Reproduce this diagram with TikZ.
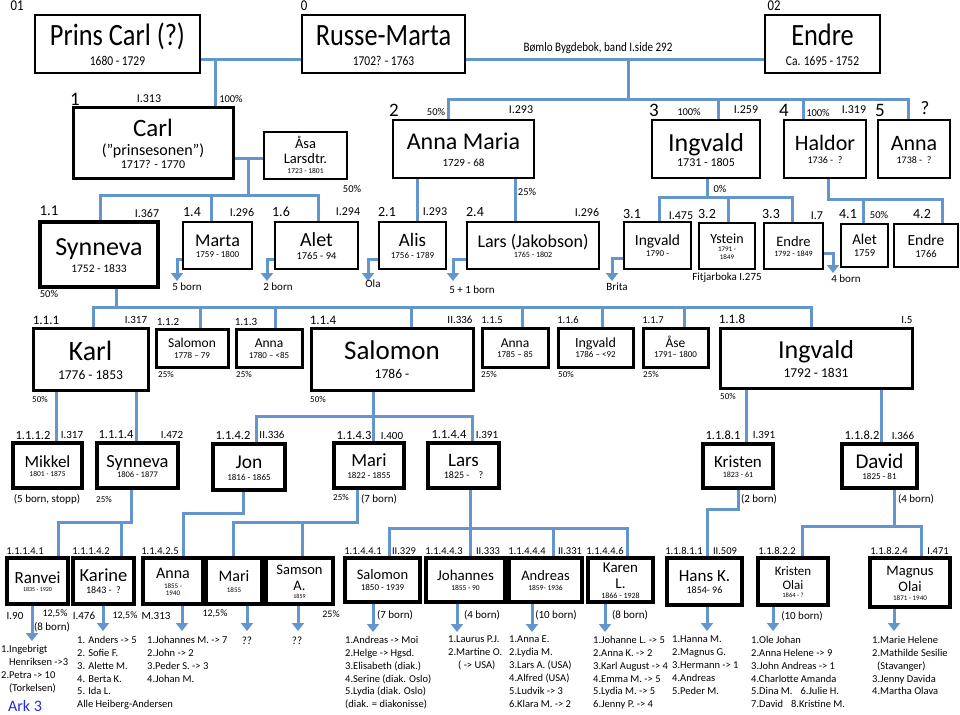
\documentclass[tikz,border=0pt]{standalone}
\usepackage{fontspec}
\setmainfont{Carlito}
\newfontfamily\nar[FakeStretch=0.85]{Carlito}
\usetikzlibrary{arrows.meta}
\definecolor{lb}{RGB}{98,150,205}
\definecolor{arkblue}{RGB}{35,45,215}
\pgfdeclarelayer{bg}
\pgfdeclarelayer{lines}
\pgfsetlayers{bg,lines,main}
\newcommand\Ln[2]{\fontsize{#1}{#1}\selectfont\vrule width0pt height.85\dimexpr#1pt\relax depth.2\dimexpr#1pt\relax#2}
\newcommand\Nl[2]{\nar\Ln{#1}{#2}}
\tikzset{
 box/.style={draw, fill=white, inner sep=0pt, align=center, font=\fontsize{2}{0}\selectfont, execute at begin node={\lineskip=0pt}},
 conn/.style={draw=lb, line width=3pt},
 arr/.style={conn, -{Triangle[width=12pt,length=8pt]}},
 lab/.style={inner sep=0pt},
 lst/.style={inner sep=0pt, anchor=north west, align=left, font=\fontsize{10.5}{12.85}\selectfont},
}
\newcommand\bx[7][2pt]{\node[box,line width=#1,minimum width={(#5-#3)*1pt},minimum height={(#6-#4)*1pt}] (#2) at ({(#3+#5)/2},{(#4+#6)/2}) {#7};}
\newcommand\lb[5]{\node[lab,font=\fontsize{#4}{#4}\selectfont] (#1) at (#2,#3) {#5};}
\begin{document}
\begin{tikzpicture}[x=1pt,y=-1pt]
\begin{pgfonlayer}{bg}
\fill[white] (0,0) rectangle (960,714);
\end{pgfonlayer}
\useasboundingbox (0,0) rectangle (960,714);

% ---------- top row
\bx[2.2pt]{pc}{35}{15}{200}{73}{\Nl{31}{Prins Carl (?)}\\[2pt]\Nl{13.5}{1680 - 1729}}
\bx[2.2pt]{rm}{302}{15}{465}{73}{\Nl{31}{Russe-Marta}\\[2pt]\Nl{13.5}{1702? - 1763}}
\bx[2.2pt]{en}{765}{15}{880}{73}{\Nl{31}{Endre}\\[2pt]\Nl{13.5}{Ca. 1695 - 1752}}
\lb{n01}{17}{6}{15}{\nar 01}
\lb{n0}{304}{6}{15}{\nar 0}
\lb{n02}{774}{6}{15}{\nar 02}
\lb{bomlo}{598}{48}{13}{\nar Bømlo Bygdebok, band I.side 292}

% ---------- generation 1
\bx[3pt]{carl}{73}{108}{233}{179}{\Ln{25}{Carl}\\\Ln{16}{(”prinsesonen”)}\\\Ln{12}{1717? - 1770}}
\bx{asa}{264}{132}{347}{179}{\Ln{14.5}{Åsa}\\\Ln{14.5}{Larsdtr.}\\\Ln{7.5}{1723 - 1801}}
\bx[2.2pt]{am}{393}{120}{534}{178}{\Ln{24}{Anna Maria}\\[3pt]\Ln{11}{1729 - 68}}
\bx[2.2pt]{ing}{652}{120}{760}{178}{\Ln{26}{Ingvald}\\\Ln{12}{1731 - 1805}}
\bx[2.2pt]{hal}{784}{120}{866}{178}{\Ln{22}{Haldor}\\\Ln{10}{1736 -\ \ ?}}
\bx[2.2pt]{an5}{878}{120}{950}{178}{\Ln{22}{Anna}\\\Ln{10}{1738 -\ \ ?}}
\lb{g1}{75}{99}{19}{1}
\lb{g1a}{149}{99}{12}{I.313}
\lb{g1b}{231}{99}{10.5}{100\%}
\lb{g2}{394}{110}{19}{2}
\lb{g2a}{436}{112}{10.5}{50\%}
\lb{g2b}{521}{110}{12}{I.293}
\lb{g3}{654}{110}{19}{3}
\lb{g3a}{689}{112}{10.5}{100\%}
\lb{g3b}{746}{110}{12}{I.259}
\lb{g4}{784}{110}{19}{4}
\lb{g4a}{818}{113}{10.5}{100\%}
\lb{g4b}{854}{110}{12}{I.319}
\lb{g5}{880}{110}{19}{5}
\lb{g5a}{925}{108}{19}{?}
\lb{p1}{352}{189}{10.5}{50\%}
\lb{p2}{527}{192}{10.5}{25\%}
\lb{p3}{720}{189}{10.5}{0\%}

% ---------- generation 2
\bx[4pt]{syn}{40}{222}{158}{287}{\Ln{26}{Synneva}\\[2pt]\Ln{11.5}{1752 - 1833}}
\bx{marta}{183}{222}{252}{269}{\Ln{18}{Marta}\\\Ln{9}{1759 - 1800}}
\bx{alet}{275}{222}{358}{269}{\Ln{20}{Alet}\\\Ln{10.5}{1765 - 94}}
\bx{alis}{379}{222}{446}{269}{\Ln{19}{Alis}\\\Ln{9}{1756 - 1789}}
\bx{lars}{467}{222}{599}{269}{\Ln{18}{Lars (Jakobson)}\\\Ln{8}{1765 - 1802}}
\bx{i31}{624}{222}{691}{269}{\Ln{15.5}{Ingvald}\\\Ln{9}{1790 -}}
\bx{ys}{699}{223}{755}{269}{\Ln{14}{Ystein}\\\Ln{7}{1791 -}\\\Ln{7}{1849}}
\bx{e33}{764}{223}{823}{269}{\Ln{14.5}{Endre}\\\Ln{8}{1792 - 1849}}
\bx{a41}{841}{224}{888}{267}{\Ln{15}{Alet}\\\Ln{10.5}{1759}}
\bx{e42}{894}{224}{958}{267}{\Ln{15.5}{Endre}\\\Ln{10.5}{1766}}
\lb{c11}{49}{211}{15}{1.1}
\lb{c11b}{147}{213}{12}{I.367}
\lb{c14}{192}{212}{14}{1.4}
\lb{c14b}{242}{212}{12}{I.296}
\lb{c16}{281}{212}{14}{1.6}
\lb{c16b}{348}{212}{12}{I.294}
\lb{c21}{387}{212}{14}{2.1}
\lb{c21b}{435}{212}{12}{I.293}
\lb{c24}{475}{212}{14}{2.4}
\lb{c24b}{587}{212}{12}{I.296}
\lb{c31}{632}{214}{14}{3.1}
\lb{c31b}{681}{216}{12}{I.475}
\lb{c32}{707}{214}{14}{3.2}
\lb{c33}{771}{214}{14}{3.3}
\lb{c33b}{817}{216}{12}{I.7}
\lb{c41}{848}{214}{14}{4.1}
\lb{c41b}{879}{215}{10.5}{50\%}
\lb{c42}{922}{214}{14}{4.2}
\lb{c11p}{49}{294}{10.5}{50\%}
\lb{bo1}{187}{287}{11}{5 born}
\lb{bo2}{278}{287}{11}{2 born}
\lb{bo3}{373}{284}{11}{Ola}
\lb{bo4}{472}{290}{11}{5 + 1 born}
\lb{bo5}{617}{287}{11}{Brita}
\lb{bo6}{727}{278}{11}{Fitjarboka I.275}
\lb{bo7}{846}{279}{11}{4 born}

% ---------- generation 3
\bx[3pt]{karl}{33}{328}{148}{390}{\Ln{28}{Karl}\\[2pt]\Ln{13.5}{1776 - 1853}}
\bx[3pt]{s112}{156}{329}{228}{367}{\Ln{13.5}{Salomon}\\\Ln{9}{1778 – 79}}
\bx[3pt]{a113}{236}{329}{302}{367}{\Ln{13.5}{Anna}\\\Ln{9}{1780 – <85}}
\bx[3pt]{s114}{311}{328}{473}{390}{\Ln{27}{Salomon}\\[2pt]\Ln{13.5}{1786 -}}
\bx[3pt]{a115}{482}{328}{548}{367}{\Ln{13.5}{Anna}\\\Ln{9}{1785 – 85}}
\bx[3pt]{i116}{558}{328}{633}{367}{\Ln{14}{Ingvald}\\\Ln{9}{1786 – <92}}
\bx[3pt]{ase}{643}{328}{708}{367}{\Ln{13.5}{Åse}\\\Ln{9}{1791– 1800}}
\bx[3pt]{i118}{720}{328}{912}{388}{\Ln{26}{Ingvald}\\[2pt]\Ln{13.5}{1792 - 1831}}
\lb{d111}{46}{320}{13}{1.1.1}
\lb{d111b}{136}{320}{11}{I.317}
\lb{d112}{168}{322}{11}{1.1.2}
\lb{d113}{246}{322}{11}{1.1.3}
\lb{d114}{323}{320}{13}{1.1.4}
\lb{d114b}{460}{320}{11}{II.336}
\lb{d115}{492}{320}{10.5}{1.1.5}
\lb{d116}{568}{320}{10.5}{1.1.6}
\lb{d117}{653}{320}{10.5}{1.1.7}
\lb{d118}{732}{319}{13}{1.1.8}
\lb{d118b}{907}{320}{11}{I.5}
\lb{q1}{166}{374}{9}{25\%}
\lb{q2}{244}{374}{9}{25\%}
\lb{q3}{40}{399}{9}{50\%}
\lb{q4}{318}{399}{9}{50\%}
\lb{q5}{489}{374}{9}{25\%}
\lb{q6}{566}{374}{9}{50\%}
\lb{q7}{651}{374}{9}{25\%}
\lb{q8}{728}{396}{9}{50\%}

% ---------- generation 4
\bx[3.5pt]{mik}{13}{443}{82}{488}{\Ln{17}{Mikkel}\\\Ln{7.5}{1801 - 1875}}
\bx[3.5pt]{syn2}{97}{443}{178}{488}{\Ln{18.5}{Synneva}\\\Ln{8.5}{1806 - 1877}}
\bx[3.5pt]{jon}{213}{444}{285}{490}{\Ln{19.5}{Jon}\\\Ln{9}{1816 - 1865}}
\bx[3.5pt]{mari}{334}{443}{404}{488}{\Ln{18.5}{Mari}\\\Ln{9}{1822 - 1855}}
\bx[3.5pt]{lars2}{428}{443}{499}{488}{\Ln{19}{Lars}\\\Ln{10}{1825 -\ \ \ \ ?}}
\bx[3.5pt]{kri}{703}{444}{773}{488}{\Ln{17}{Kristen}\\\Ln{8}{1823 - 61}}
\bx[3.5pt]{dav}{842}{444}{917}{488}{\Ln{21}{David}\\\Ln{9}{1825 - 81}}
\lb{e1}{33}{435}{12.5}{1.1.1.2}
\lb{e1b}{72}{435}{11}{I.317}
\lb{e2}{116}{435}{12.5}{1.1.1.4}
\lb{e2b}{172}{435}{11}{I.472}
\lb{e3}{233}{435}{12.5}{1.1.4.2}
\lb{e3b}{272}{435}{11}{II.336}
\lb{e4}{354}{435}{12.5}{1.1.4.3}
\lb{e4b}{392}{436}{11}{I.400}
\lb{e5}{449}{435}{12.5}{1.1.4.4}
\lb{e5b}{487}{435}{11}{I.391}
\lb{e6}{723}{435}{12.5}{1.1.8.1}
\lb{e6b}{764}{435}{11}{I.391}
\lb{e7}{862}{435}{12.5}{1.1.8.2}
\lb{e7b}{903}{436}{11}{I.366}
\lb{r1}{47}{499}{11}{(5 born, stopp)}
\lb{r2}{104}{499}{9}{25\%}
\lb{r3}{341}{497}{9}{25\%}
\lb{r4}{379}{499}{11}{(7 born)}
\lb{r5}{759}{499}{11}{(2 born)}
\lb{r6}{916}{499}{11}{(4 born)}

% ---------- generation 5
\bx[3.5pt]{ran}{7}{558}{68}{604}{\Ln{17}{Ranvei}\\\Ln{6}{1835 - 1920}}
\bx[3.5pt]{kar}{73}{558}{134}{604}{\Ln{18.5}{Karine}\\\Ln{10}{1843 -\ \ ?}}
\bx[3.5pt]{an6}{143}{558}{203}{604}{\Ln{16}{Anna}\\\Ln{7}{1855 -}\\\Ln{7}{1940}}
\bx[3.5pt]{mari6}{206}{558}{262}{604}{\Ln{16}{Mari}\\[2pt]\Ln{7}{1855}}
\bx[3.5pt]{sam}{266}{558}{333}{604}{\Ln{14.5}{Samson}\\\Ln{14.5}{A.}\\\Ln{6}{1859}}
\bx[3.5pt]{sal6}{345}{558}{420}{602}{\Ln{14.5}{Salomon}\\\Ln{9}{1850 - 1939}}
\bx[3.5pt]{joh}{426}{558}{505}{602}{\Ln{15}{Johannes}\\\Ln{7.5}{1855 - 90}}
\bx[3.5pt]{and6}{509}{558}{582}{602}{\Ln{14.5}{Andreas}\\\Ln{7.5}{1859- 1936}}
\bx[3.5pt]{kar6}{588}{558}{653}{602}{\Ln{15}{Karen}\\\Ln{15}{L.}\\\Ln{8}{1866 - 1928}}
\bx[3.5pt]{hans}{667}{558}{742}{605}{\Ln{17}{Hans K.}\\\Ln{10}{1854- 96}}
\bx[3.5pt]{kol}{758}{558}{828}{605}{\Ln{13}{Kristen}\\\Ln{13}{Olai}\\\Ln{6.5}{1864 - ?}}
\bx[3.5pt]{mag}{870}{558}{950}{607}{\Ln{14.5}{Magnus}\\\Ln{14.5}{Olai}\\\Ln{7}{1871 - 1940}}
\lb{f1}{25}{551}{10.5}{1.1.1.4.1}
\lb{f2}{91}{551}{10.5}{1.1.1.4.2}
\lb{f3}{160}{551}{10.5}{1.1.4.2.5}
\lb{f4}{363}{551}{10.5}{1.1.4.4.1}
\lb{f4b}{404}{551}{10.5}{II.329}
\lb{f5}{444}{551}{10.5}{1.1.4.4.3}
\lb{f5b}{488}{551}{10.5}{II.333}
\lb{f6}{527}{551}{10.5}{1.1.4.4.4}
\lb{f6b}{570}{551}{10.5}{II.331}
\lb{f7}{605}{551}{10.5}{1.1.4.4.6}
\lb{f8}{684}{551}{10.5}{1.1.8.1.1}
\lb{f8b}{725}{551}{10.5}{II.509}
\lb{f9}{777}{551}{10.5}{1.1.8.2.2}
\lb{f10}{889}{551}{10.5}{1.1.8.2.4}
\lb{f10b}{938}{551}{10.5}{I.471}
\lb{h1}{15}{616}{11}{I.90}
\lb{h2}{55}{614}{10}{12,5\%}
\lb{h3}{52}{627}{11}{(8 born)}
\lb{h4}{84}{616}{11}{I.476}
\lb{h5}{125}{616}{10}{12,5\%}
\lb{h6}{156}{616}{11}{M.313}
\lb{h7}{215}{614}{10}{12,5\%}
\lb{h8}{331}{614}{10}{25\%}
\lb{h9}{395}{615}{11}{(7 born)}
\lb{h10}{482}{615}{11}{(4 born)}
\lb{h11}{556}{615}{11}{(10 born)}
\lb{h12}{630}{615}{11}{(8 born)}
\lb{h13}{802}{616}{11}{(10 born)}
\lb{h14}{247}{641}{11}{??}
\lb{h15}{297}{641}{11}{??}

% ---------- lists
\node[lst] (L1) at (1,645) {1.Ingebrigt\\\hspace*{8pt}Henriksen ->3\\2.Petra -> 10\\\hspace*{8pt}(Torkelsen)};
\node[lab,font=\fontsize{16}{16}\selectfont,text=arkblue] (ark) at (25,706) {Ark 3};
\node[lst] (L2) at (77,636) {1. Anders -> 5\\2. Sofie F.\\3. Alette M.\\4. Berta K.\\5. Ida L.\\Alle Heiberg-Andersen};
\node[lst] (L3) at (147,636) {1.Johannes M. -> 7\\2.John -> 2\\3.Peder S. -> 3\\4.Johan M.};
\node[lst] (L4) at (345,636) {1.Andreas -> Moi\\2.Helge -> Hgsd.\\3.Elisabeth (diak.)\\4.Serine (diak. Oslo)\\5.Lydia (diak. Oslo)\\(diak. = diakonisse)};
\node[lst] (L5) at (448,636) {1.Laurus P.J.\\2.Martine O.\\\hspace*{10pt}( -> USA)};
\node[lst] (L6) at (509,636) {1.Anna E.\\2.Lydia M.\\3.Lars A. (USA)\\4.Alfred (USA)\\5.Ludvik -> 3\\6.Klara M. -> 2};
\node[lst] (L7) at (593,636) {1.Johanne L. -> 5\\2.Anna K. -> 2\\3.Karl August -> 4\\4.Emma M. -> 5\\5.Lydia M. -> 5\\6.Jenny P. -> 4};
\node[lst] (L8) at (672,636) {1.Hanna M.\\2.Magnus G.\\3.Hermann -> 1\\4.Andreas\\5.Peder M.};
\node[lst] (L9) at (751,636) {1.Ole Johan\\2.Anna Helene -> 9\\3.John Andreas -> 1\\4.Charlotte Amanda\\5.Dina M.\hspace{8pt}6.Julie H.\\7.David\hspace{8pt}8.Kristine M.};
\node[lst] (L10) at (872,636) {1.Marie Helene\\2.Mathilde Sesilie\\\hspace*{5pt}(Stavanger)\\3.Jenny Davida\\4.Martha Olava};

% ---------- connectors
\begin{pgfonlayer}{lines}
\draw[conn] (pc.east |- 0,60) -- (rm.west |- 0,60);
\draw[conn] (rm.east |- 0,60) -- (en.west |- 0,60);
\draw[conn] (215,60) -- (215,0 |- carl.north);
\draw[conn] (628,60) -- (628,100);
\draw[conn] (448,0 |- am.north) -- (448,100) -- (908,100) -- (908,0 |- an5.north);
\draw[conn] (718,100) -- (718,0 |- ing.north);
\draw[conn] (803,100) -- (803,0 |- hal.north);
% Carl family
\draw[conn] (carl.east |- 0,159) -- (asa.west |- 0,159);
\draw[conn] (248,159) -- (248,195);
\draw[conn] (100,0 |- syn.north) -- (100,195) -- (318,195) -- (318,0 |- alet.north);
\draw[conn] (211,195) -- (211,0 |- marta.north);
% Anna Maria
\draw[conn] (417,0 |- am.south) -- (417,0 |- alis.north);
\draw[conn] (515,0 |- am.south) -- (515,0 |- lars.north);
% Ingvald
\draw[conn] (707,0 |- ing.south) -- (707,197);
\draw[conn] (659,0 |- i31.north) -- (659,197) -- (792,197) -- (792,0 |- e33.north);
\draw[conn] (728,197) -- (728,0 |- ys.north);
% Haldor
\draw[conn] (828,0 |- hal.south) -- (828,199) -- (942,199) -- (942,0 |- e42.north);
\draw[conn] (863,199) -- (863,0 |- a41.north);
% small arrows gen 2
\draw[arr] (marta.west |- 0,259) -| (177,281);
\draw[arr] (alet.west |- 0,259) -| (267,281);
\draw[arr] (alis.west |- 0,259) -| (368,281);
\draw[arr] (lars.west |- 0,259) -| (453,281);
\draw[arr] (i31.west |- 0,258) -| (612,281);
\draw[arr] (e33.east |- 0,253) -| (833,273);
% Synneva's children
\draw[conn] (116,0 |- syn.south) -- (116,307);
\draw[conn] (93,0 |- karl.north) -- (93,307) -- (811,307) -- (811,0 |- i118.north);
\foreach \x/\n in {200/s112,275/a113,411/s114,522/a115,602/i116,684/ase}
  \draw[conn] (\x,307) -- (\x,0 |- \n.north);
% gen 4
\draw[conn] (56,0 |- karl.south) -- (56,0 |- mik.north);
\draw[conn] (136,0 |- karl.south) -- (136,0 |- syn2.north);
\draw[conn] (373,0 |- s114.south) -- (373,0 |- mari.north);
\draw[conn] (256,0 |- jon.north) -- (256,416) -- (472,416) -- (472,0 |- lars2.north);
\draw[conn] (746,0 |- i118.south) -- (746,0 |- kri.north);
\draw[conn] (881,0 |- i118.south) -- (881,0 |- dav.north);
% gen 5
\draw[conn] (131,0 |- syn2.south) -- (131,522) -- (58,522) -- (58,0 |- ran.north);
\draw[conn] (121,522) -- (121,0 |- kar.north);
\draw[conn] (243,0 |- jon.south) -- (243,513) -- (183,513) -- (183,0 |- an6.north);
\draw[conn] (357,0 |- mari.south) -- (357,522) -- (233,522) -- (233,0 |- mari6.north);
\draw[conn] (302,522) -- (302,0 |- sam.north);
\draw[conn] (470,0 |- lars2.south) -- (470,0 |- joh.north);
\draw[conn] (389,0 |- sal6.north) -- (389,528) -- (627,528) -- (627,0 |- kar6.north);
\draw[conn] (553,528) -- (553,0 |- and6.north);
\draw[conn] (738,0 |- kri.south) -- (738,509) -- (707,509) -- (707,0 |- hans.north);
\draw[conn] (894,0 |- dav.south) -- (894,526);
\draw[conn] (802,0 |- kol.north) -- (802,526) -- (921,526) -- (921,0 |- mag.north);
% arrows gen 5
\draw[arr] (32,0 |- ran.south) -- (32,641);
\draw[arr] (103,0 |- kar.south) -- (103,631);
\draw[arr] (182,0 |- an6.south) -- (182,631);
\draw[arr] (247,0 |- mari6.south) -- (247,631);
\draw[arr] (298,0 |- sam.south) -- (298,631);
\draw[arr] (373,0 |- sal6.south) -- (373,632);
\draw[arr] (457,0 |- joh.south) -- (457,632);
\draw[arr] (532,0 |- and6.south) -- (532,632);
\draw[arr] (605,0 |- kar6.south) -- (605,632);
\draw[arr] (707,0 |- hans.south) -- (707,631);
\draw[arr] (773,0 |- kol.south) -- (773,631);
\draw[arr] (894,0 |- mag.south) -- (894,631);
\end{pgfonlayer}
\end{tikzpicture}
\end{document}
